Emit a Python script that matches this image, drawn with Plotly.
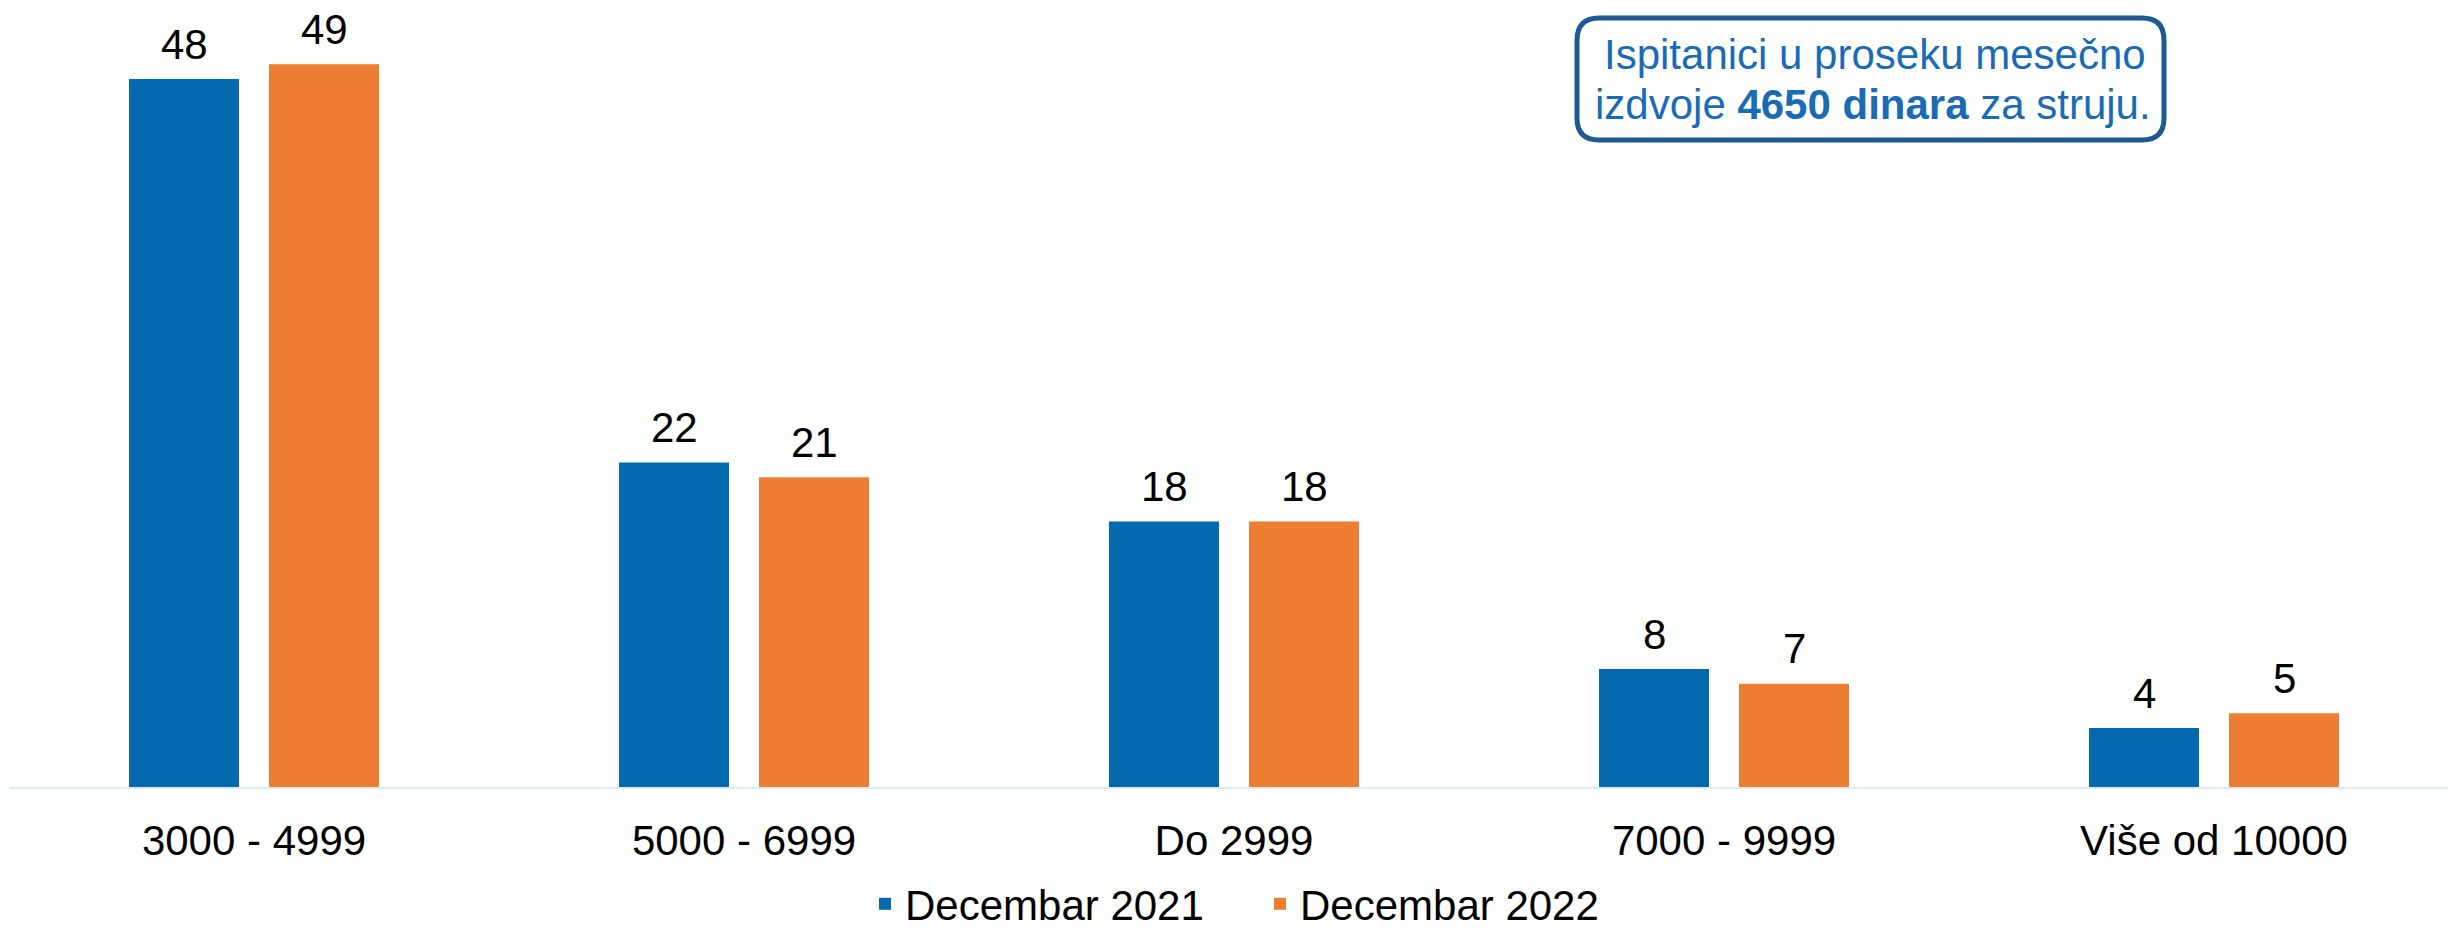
import plotly.graph_objects as go

categories = ["3000 - 4999", "5000 - 6999", "Do 2999", "7000 - 9999", "Više od 10000"]
dec2021 = [48, 22, 18, 8, 4]
dec2022 = [49, 21, 18, 7, 5]
series_names = ["Decembar 2021", "Decembar 2022"]
note_line1 = "Ispitanici u proseku mesečno"
note_line2 = "izdvoje <b>4650 dinara</b> za struju."

BLUE = "#0569B0"
ORANGE = "#ED7D31"
FONT = "Liberation Sans, Arial, sans-serif"

W, H = 2448, 928
ML, MR, MT, MB = 9, 0, 20, 141
PW = W - ML - MR
PH = H - MT - MB

slot = 490.0          # px per category
px_per_unit = 14.75   # px per value unit
bw = 110 / slot
off_blue = -125 / slot
off_orange = 15 / slot

fig = go.Figure()
fig.add_trace(go.Bar(
    x=categories, y=dec2021, name=series_names[0], marker_color=BLUE,
    width=bw, offset=off_blue, marker_line_width=0,
))
fig.add_trace(go.Bar(
    x=categories, y=dec2022, name=series_names[1], marker_color=ORANGE,
    width=bw, offset=off_orange, marker_line_width=0,
))

# value labels above bars
for vals, off in ((dec2021, off_blue), (dec2022, off_orange)):
    for c, v in zip(categories, vals):
        fig.add_annotation(
            x=c, y=v, xref="x", yref="y", text=str(v), showarrow=False,
            xshift=(off + bw / 2) * slot, yshift=35, yanchor="middle", xanchor="center",
            font=dict(size=42, color="#000000", family=FONT),
        )

xr_end = -0.5 + PW / slot


def px(X):
    return (X - ML) / PW


def py(Y):
    return (MT + PH - Y) / PH


# rounded note box (page coords)
x0, x1, y0, y1, r = 1577, 2164, 18, 140, 22
pts = [
    ("M", x0 + r, y0), ("L", x1 - r, y0), ("Q", x1, y0, x1, y0 + r),
    ("L", x1, y1 - r), ("Q", x1, y1, x1 - r, y1), ("L", x0 + r, y1),
    ("Q", x0, y1, x0, y1 - r), ("L", x0, y0 + r), ("Q", x0, y0, x0 + r, y0),
]
path = ""
for p in pts:
    if p[0] == "Q":
        path += f"Q{px(p[1]):.5f},{py(p[2]):.5f} {px(p[3]):.5f},{py(p[4]):.5f} "
    else:
        path += f"{p[0]}{px(p[1]):.5f},{py(p[2]):.5f} "
path += "Z"
fig.add_shape(type="path", path=path, xref="paper", yref="paper",
              line=dict(color="#1D5A94", width=5), fillcolor="rgba(0,0,0,0)", layer="above")

for txt, cx, cy in ((note_line1, 1875, 54), (note_line2, 1873, 105)):
    fig.add_annotation(
        xref="paper", yref="paper", x=px(cx), y=py(cy), xanchor="center", yanchor="middle",
        text=txt, showarrow=False, align="center",
        font=dict(size=42, color="#1A6BB5", family=FONT),
    )

fig.update_layout(
    width=W, height=H,
    margin=dict(l=ML, r=MR, t=MT, b=MB, autoexpand=False),
    paper_bgcolor="white", plot_bgcolor="white",
    barmode="group",
    showlegend=True,
    legend=dict(orientation="h", x=px(1260), xanchor="center", y=py(904), yanchor="middle",
                font=dict(size=42, color="#000000", family=FONT),
                entrywidth=350, tracegroupgap=0, bgcolor="rgba(0,0,0,0)"),
    xaxis=dict(range=[-0.5, xr_end], showgrid=False, showline=True, linecolor="#DAE9F8", linewidth=2,
               ticks="outside", ticklen=16, tickcolor="rgba(0,0,0,0)",
               tickfont=dict(size=42, color="#000000", family=FONT)),
    yaxis=dict(range=[0, PH / px_per_unit], showgrid=False, showticklabels=False, zeroline=False,
               showline=False),
)

fig.write_html("out.html", config={"displayModeBar": False},
               post_script="document.body.style.margin='0px';")
